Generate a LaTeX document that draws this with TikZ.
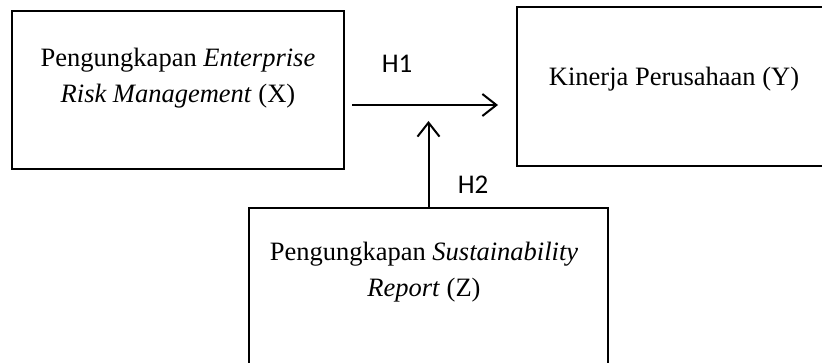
\documentclass[tikz,border=0pt]{standalone}
\usepackage{fontspec}
\setmainfont{Liberation Serif}
\newfontfamily\calfont{Carlito}
\usetikzlibrary{arrows.meta}
\begin{document}
\begin{tikzpicture}[x=1pt,y=-1pt,
  boxstyle/.style={draw=black,line width=2.6pt,rectangle,inner sep=0pt},
  txtstyle/.style={align=center,font=\fontsize{26.5}{35.5}\selectfont,inner sep=0pt},
  hlabel/.style={font=\calfont\fontsize{27}{30}\selectfont,inner sep=0pt},
  conn/.style={line width=2pt,-{Straight Barb[length=14pt,width=22pt,line width=2pt]}}]
\useasboundingbox (0,0) rectangle (822,363);
\clip (0,0) rectangle (822,363);
\fill[white] (0,0) rectangle (822,363);
\node[boxstyle,minimum width=332pt,minimum height=158pt] (X) at (178,90) {};
\node[boxstyle,minimum width=314pt,minimum height=159pt] (Y) at (674,86.5) {};
\node[boxstyle,minimum width=359pt,minimum height=167pt] (Z) at (428.5,291.5) {};
\node[txtstyle] (tx) at (178,78) {Pengungkapan \textit{Enterprise}\\\textit{Risk Management} (X)};
\node[txtstyle] (ty) at (674,79) {Kinerja Perusahaan (Y)};
\node[txtstyle] (tz) at (424,272) {Pengungkapan \textit{Sustainability}\\\textit{Report} (Z)};
\coordinate (h1start) at (352,105);
\coordinate (h1end) at (498,105);
\coordinate (h2end) at (428.5,121);
\draw[conn] (h1start) -- (h1end);
\draw[conn] (Z.north) -- (h2end);
\node[hlabel] (H1) at (397,64) {H1};
\node[hlabel] (H2) at (473,185) {H2};
\end{tikzpicture}
\end{document}
